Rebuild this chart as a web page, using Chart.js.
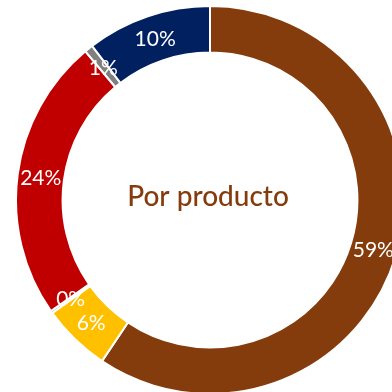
<!DOCTYPE html>
<html>
<head>
<meta charset="utf-8">
<script src="https://cdn.jsdelivr.net/npm/chart.js@4.4.1/dist/chart.umd.min.js"></script>
<style>
  html, body {
    margin: 0;
    padding: 0;
    background: #ffffff;
  }
  #wrap {
    position: relative;
    width: 392px;
    height: 392px;
    overflow: hidden;
  }
  #myChart {
    position: absolute;
    left: 15px;
    top: 5px;
  }
</style>
</head>
<body>
<div id="wrap">
  <canvas id="myChart" width="390" height="390"></canvas>
</div>
<script>
// share of sales by product line, in percent
const products = ["Producto A", "Producto B", "Producto C", "Producto D", "Producto E", "Producto F"];
const shares = [59.4, 5.7, 0.2, 23.6, 0.7, 10.4];
const colors = ["#843C0C", "#FFC000", "#A9B3C1", "#C00000", "#808080", "#002060"];
const centerTitle = "Por producto";

const FONT = "Lato, 'Open Sans', sans-serif";

// white percentage on each slice
const sliceLabels = {
  id: "sliceLabels",
  afterDatasetsDraw(chart) {
    const ctx = chart.ctx;
    const meta = chart.getDatasetMeta(0);
    ctx.save();
    ctx.fillStyle = "#ffffff";
    ctx.font = "21px " + FONT;
    ctx.textAlign = "center";
    ctx.textBaseline = "middle";
    meta.data.forEach((arc, i) => {
      const pos = arc.getCenterPoint();
      ctx.fillText(Math.round(shares[i]) + "%", pos.x, pos.y + 1);
    });
    ctx.restore();
  },
};

// title in the hole of the doughnut
const centerText = {
  id: "centerText",
  afterDraw(chart) {
    const ctx = chart.ctx;
    const arc = chart.getDatasetMeta(0).data[0];
    ctx.save();
    ctx.fillStyle = "#843C0C";
    ctx.font = "500 28px " + FONT;
    ctx.textAlign = "center";
    ctx.textBaseline = "middle";
    ctx.fillText(centerTitle, arc.x - 2, arc.y - 3);
    ctx.restore();
  },
};

let ctx1 = document.getElementById("myChart");
new Chart(ctx1, {
  type: "doughnut",
  data: {
    labels: products,
    datasets: [
      {
        data: shares,
        backgroundColor: colors,
        borderColor: "#ffffff",
        borderWidth: 2,
      },
    ],
  },
  options: {
    responsive: false,
    animation: false,
    cutout: "76%",
    layout: { padding: 0 },
    plugins: {
      legend: { display: false },
      tooltip: { enabled: false },
      title: { display: false },
    },
  },
  plugins: [sliceLabels, centerText],
});
</script>
</body>
</html>
